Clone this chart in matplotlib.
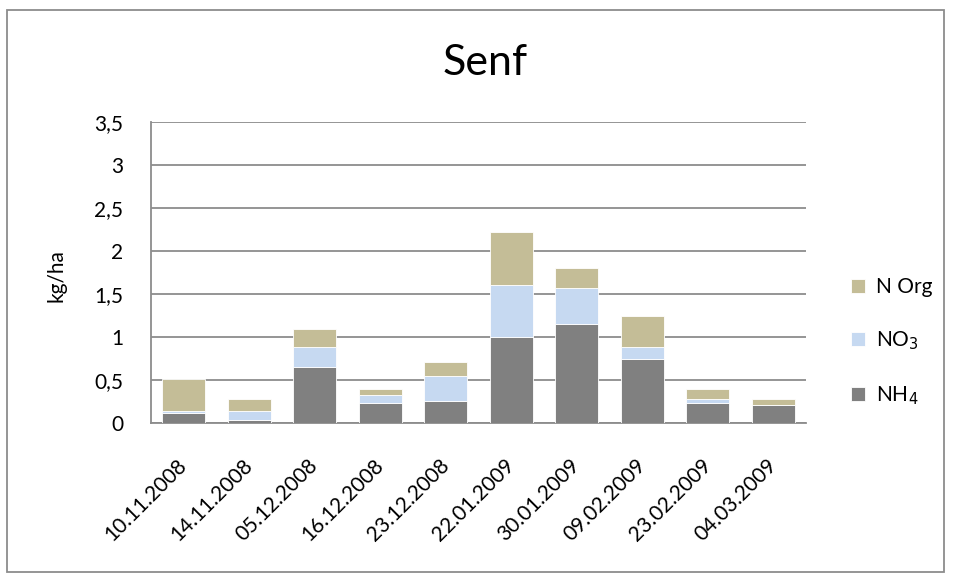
import matplotlib
matplotlib.use("Agg")
from matplotlib import pyplot as plt
from matplotlib.patches import Rectangle
import numpy as np

dates = ["10.11.2008", "14.11.2008", "05.12.2008", "16.12.2008", "23.12.2008",
         "22.01.2009", "30.01.2009", "09.02.2009", "23.02.2009", "04.03.2009"]
nh4 = [0.12, 0.03, 0.65, 0.23, 0.26, 1.00, 1.15, 0.74, 0.23, 0.21]
no3 = [0.02, 0.11, 0.23, 0.09, 0.29, 0.60, 0.42, 0.14, 0.05, 0.00]
n_org = [0.37, 0.14, 0.21, 0.07, 0.16, 0.62, 0.23, 0.37, 0.11, 0.07]
yticks = [0, 0.5, 1, 1.5, 2, 2.5, 3, 3.5]
ytick_labels = ["0", "0,5", "1", "1,5", "2", "2,5", "3", "3,5"]

plt.rcParams["font.family"] = ["Lato", "DejaVu Sans"]
fs = 15

fig = plt.figure(figsize=(9.54, 5.81), dpi=100)
ax = fig.add_axes([151 / 954, 1 - 423 / 581, (806 - 151) / 954, (423 - 122) / 581])

x = np.arange(len(dates))
w = 0.66
c_nh4, c_no3, c_org = "#808080", "#c6d9f1", "#c4bd97"
b1 = ax.bar(x, nh4, w, color=c_nh4, edgecolor="white", linewidth=0.6, label="NH$_4$", zorder=3)
bottom2 = np.array(nh4)
b2 = ax.bar(x, no3, w, bottom=bottom2, color=c_no3, edgecolor="white", linewidth=0.6, label="NO$_3$", zorder=3)
bottom3 = bottom2 + np.array(no3)
b3 = ax.bar(x, n_org, w, bottom=bottom3, color=c_org, edgecolor="white", linewidth=0.6, label="N Org", zorder=3)

ax.set_xlim(-0.5, len(dates) - 0.5)
ax.set_ylim(0, 3.5)
ax.set_yticks(yticks)
ax.set_yticklabels(ytick_labels, fontsize=fs)
ax.yaxis.grid(True, color="#8c8c8c", linewidth=1.3, zorder=0)
ax.set_xticks(x)
ax.set_xticklabels(dates, rotation=45, ha="right", va="center", rotation_mode="anchor", fontsize=fs)
ax.tick_params(axis="both", length=0)
ax.tick_params(axis="x", pad=28)
ax.tick_params(axis="y", pad=20)
for s in ["top", "right"]:
    ax.spines[s].set_visible(False)
for s in ["left", "bottom"]:
    ax.spines[s].set_color("#8c8c8c")
    ax.spines[s].set_linewidth(1.3)
ax.set_ylabel("kg/ha", fontsize=fs)
ax.yaxis.set_label_coords((67 - 151) / 655, 0.49)

fig.text(485 / 954, 1 - 75 / 581, "Senf", fontsize=31, ha="center", va="baseline")

leg = fig.legend(handles=[b3, b2, b1], loc="center left", bbox_to_anchor=(832 / 954, 1 - 342 / 581),
                 frameon=False, fontsize=fs, handlelength=0.7, handleheight=0.7,
                 handletextpad=0.5, labelspacing=1.55)

fig.patches.append(Rectangle((7 / 954, 1 - 572 / 581), 937 / 954, 562 / 581,
                             transform=fig.transFigure, fill=False,
                             edgecolor="#8c8c8c", linewidth=1.3))

fig.savefig("out.png", dpi=100)
